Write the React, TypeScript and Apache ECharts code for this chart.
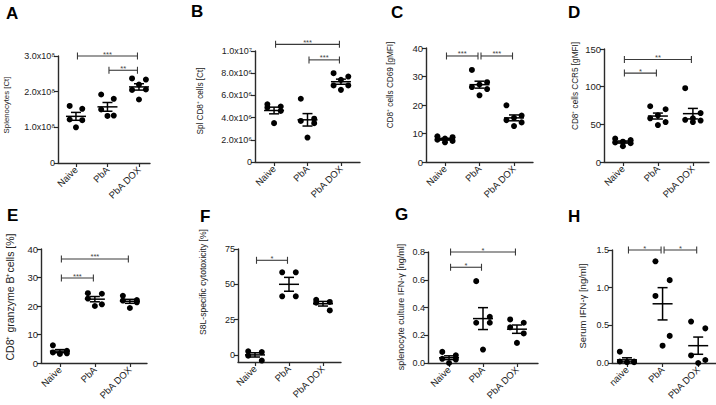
import { useEffect, useRef } from 'react';
import * as echarts from 'echarts';

const FONT = '"Liberation Sans", Arial, Helvetica, sans-serif';
const AXIS = '#2a2a2a';

const CATEGORIES = ['Naive', 'PbA', 'PbA DOX'];
const CATEGORIES_H = ['naive', 'PbA', 'PbA DOX'];

// A – Splenocytes [Ct]
const A_NAIVE = [1.6e8, 1.52e8, 1.22e8, 1.2e8, 1.0e8];
const A_PBA = [1.92e8, 1.8e8, 1.5e8, 1.33e8, 1.32e8];
const A_DOX = [2.37e8, 2.34e8, 2.2e8, 2.05e8, 2.06e8, 1.78e8];
const A_TICKS = [0, 1e8, 2e8, 3e8];
const A_SIG: [number, number, number, string][] = [[0, 2, 3.0e8, '***'], [1, 2, 2.6e8, '**']];

// B – Spl CD8+ cells [Ct]
const B_NAIVE = [5.2e6, 5.0e6, 4.9e6, 4.6e6, 3.5e6];
const B_PBA = [5.7e6, 3.9e6, 3.7e6, 3.5e6, 2.2e6];
const B_DOX = [8.0e6, 7.7e6, 7.4e6, 6.9e6, 6.9e6, 6.5e6];
const B_TICKS = [0, 2e6, 4e6, 6e6, 8e6, 1e7];
const B_SIG: [number, number, number, string][] = [[0, 2, 10.6e6, '***'], [1, 2, 9.2e6, '***']];

// C – CD8+ cells CD69 [gMFI]
const C_NAIVE = [9.0, 8.7, 8.2, 7.8, 7.4, 6.9];
const C_PBA = [32.3, 28.0, 27.2, 26.3, 25.6, 23.4];
const C_DOX = [19.9, 16.3, 15.5, 14.7, 13.9, 12.6];
const C_TICKS = [0, 10, 20, 30, 40];
const C_SIG: [number, number, number, string][] = [[0, 1, 37.2, '***'], [1, 2, 37.2, '***']];

// D – CD8+ cells CCR5 [gMFI]
const D_NAIVE = [31, 29, 27, 26, 25, 21];
const D_PBA = [74, 70, 62, 58, 53, 49];
const D_DOX = [98, 65, 58, 56, 55, 53];
const D_TICKS = [0, 50, 100, 150];
const D_SIG: [number, number, number, string][] = [[0, 2, 136, '**'], [0, 1, 118, '*']];

// E – CD8+ granzyme B+ cells [%]
const E_NAIVE = [6.2, 4.3, 3.7, 3.4, 3.2];
const E_PBA = [24.5, 24.3, 22.6, 20.6, 20.0];
const E_DOX = [23.6, 22.1, 21.9, 21.3, 19.3];
const E_TICKS = [0, 10, 20, 30, 40];
const E_SIG: [number, number, number, string][] = [[0, 2, 36.5, '***'], [0, 1, 29.8, '***']];

// F – S8L-specific cytotoxicity [%]
const F_NAIVE = [2.6, 2.0, -0.5, -4.0];
const F_PBA = [58.5, 58.5, 41.5, 41.5];
const F_DOX = [39, 37.5, 37, 31.5];
const F_TICKS = [0, 25, 50, 75];
const F_SIG: [number, number, number, string][] = [[0, 1, 67, '*']];

// G – splenocyte culture IFN-γ [ng/ml]
const G_NAIVE = [0.08, 0.055, 0.03, 0.025, 0.0];
const G_PBA = [0.59, 0.333, 0.29, 0.29, 0.097];
const G_DOX = [0.314, 0.29, 0.257, 0.213, 0.145];
const G_TICKS = [0, 0.2, 0.4, 0.6, 0.8];
const G_SIG: [number, number, number, string][] = [[0, 2, 0.8, '*'], [0, 1, 0.69, '*']];

// H – Serum IFN-γ [ng/ml]
const H_NAIVE = [0.15, 0.02, 0.02, 0.01, 0.01];
const H_PBA = [1.35, 1.1, 0.89, 0.36, 0.23];
const H_DOX = [0.55, 0.46, 0.1, 0.04, 0.0];
const H_TICKS = [0, 0.5, 1.0, 1.5];
const H_SIG: [number, number, number, string][] = [[0, 1, 1.5, '*'], [1, 2, 1.5, '*']];

// horizontal scatter spread of the dots inside a group (category units)
const JITTER: Record<number, number[]> = {
  4: [-0.2, 0.2, -0.2, 0.2],
  5: [-0.2, 0.2, -0.2, 0.2, 0],
  6: [-0.22, 0.22, 0, -0.22, 0.22, 0],
};

const sci = (exp: number, sup: string) => (v: number) =>
  v === 0 ? '0' : (v / Math.pow(10, exp)).toFixed(1) + 'x10' + sup;
const fixed = (d: number) => (v: number) => v.toFixed(d);

type Panel = {
  letter: string; lx: number; ly: number;
  left: number; top: number; width: number; height: number;
  xMin: number; xMax: number; yMin: number; yMax: number;
  ticks: number[]; fmt: (v: number) => string;
  name: string; nx: number; ny: number; nfs: number; tfs: number;
  cats: string[]; groups: number[][]; sig: [number, number, number, string][];
};

const PANELS: Panel[] = [
  { letter: 'A', lx: 6, ly: 5, left: 58, top: 56, width: 92, height: 107, xMin: -0.57, xMax: 2.35, yMin: 0, yMax: 3e8,
    ticks: A_TICKS, fmt: sci(8, '⁸'), name: 'Splenocytes [Ct]', nx: 6, ny: 105, nfs: 7.8, tfs: 9,
    cats: CATEGORIES, groups: [A_NAIVE, A_PBA, A_DOX], sig: A_SIG },
  { letter: 'B', lx: 191, ly: 3, left: 255, top: 51, width: 105, height: 111, xMin: -0.57, xMax: 2.57, yMin: 0, yMax: 1e7,
    ticks: B_TICKS, fmt: (v) => (v === 0 ? '0' : v >= 1e7 ? (v / 1e7).toFixed(1) + 'x10⁷' : (v / 1e6).toFixed(1) + 'x10⁶'),
    name: 'Spl CD8⁺ cells [Ct]', nx: 200.5, ny: 101, nfs: 8.2, tfs: 9,
    cats: CATEGORIES, groups: [B_NAIVE, B_PBA, B_DOX], sig: B_SIG },
  { letter: 'C', lx: 391, ly: 4, left: 426, top: 48, width: 107, height: 114, xMin: -0.55, xMax: 2.55, yMin: 0, yMax: 40,
    ticks: C_TICKS, fmt: fixed(0), name: 'CD8⁺ cells CD69 [gMFI]', nx: 390, ny: 85, nfs: 8.2, tfs: 9.5,
    cats: CATEGORIES, groups: [C_NAIVE, C_PBA, C_DOX], sig: C_SIG },
  { letter: 'D', lx: 568, ly: 4, left: 604, top: 49, width: 105, height: 113, xMin: -0.54, xMax: 2.46, yMin: 0, yMax: 150,
    ticks: D_TICKS, fmt: fixed(0), name: 'CD8⁺ cells CCR5 [gMFI]', nx: 575.5, ny: 86, nfs: 8.2, tfs: 9.5,
    cats: CATEGORIES, groups: [D_NAIVE, D_PBA, D_DOX], sig: D_SIG },
  { letter: 'E', lx: 7, ly: 207, left: 41, top: 249, width: 106, height: 114, xMin: -0.54, xMax: 2.49, yMin: 0, yMax: 40,
    ticks: E_TICKS, fmt: fixed(0), name: 'CD8⁺ granzyme B⁺cells [%]', nx: 9.5, ny: 297, nfs: 10.5, tfs: 9.5,
    cats: CATEGORIES, groups: [E_NAIVE, E_PBA, E_DOX], sig: E_SIG },
  { letter: 'F', lx: 200, ly: 208, left: 238, top: 249, width: 103, height: 113, xMin: -0.5, xMax: 2.53, yMin: -5, yMax: 75,
    ticks: F_TICKS, fmt: fixed(0), name: 'S8L-specific cytotoxicity [%]', nx: 203, ny: 282, nfs: 8.6, tfs: 9,
    cats: CATEGORIES, groups: [F_NAIVE, F_PBA, F_DOX], sig: F_SIG },
  { letter: 'G', lx: 395, ly: 206, left: 428, top: 252, width: 110, height: 111, xMin: -0.62, xMax: 2.62, yMin: 0, yMax: 0.8,
    ticks: G_TICKS, fmt: fixed(1), name: 'splenocyte culture IFN-γ [ng/ml]', nx: 401, ny: 307, nfs: 9, tfs: 9,
    cats: CATEGORIES, groups: [G_NAIVE, G_PBA, G_DOX], sig: G_SIG },
  { letter: 'H', lx: 568, ly: 208, left: 612, top: 250, width: 104, height: 113, xMin: -0.42, xMax: 2.5, yMin: 0, yMax: 1.5,
    ticks: H_TICKS, fmt: fixed(1), name: 'Serum IFN-γ [ng/ml]', nx: 582.5, ny: 306, nfs: 9.5, tfs: 9,
    cats: CATEGORIES_H, groups: [H_NAIVE, H_PBA, H_DOX], sig: H_SIG },
];

function meanSem(vals: number[]): [number, number] {
  const n = vals.length;
  const m = vals.reduce((a, b) => a + b, 0) / n;
  const sd = Math.sqrt(vals.reduce((a, b) => a + (b - m) * (b - m), 0) / (n - 1));
  return [m, sd / Math.sqrt(n)];
}

function buildOption(): any {
  const grid: any[] = [];
  const xAxis: any[] = [];
  const yAxis: any[] = [];
  const series: any[] = [];
  const graphic: any[] = [];

  PANELS.forEach((p, i) => {
    grid.push({ left: p.left, top: p.top, width: p.width, height: p.height, containLabel: false });
    xAxis.push({
      type: 'value', gridIndex: i, min: p.xMin, max: p.xMax,
      axisLine: { show: true, onZero: false, lineStyle: { color: AXIS, width: 1.4 } },
      axisTick: { show: true, customValues: [0, 1, 2], length: 4, lineStyle: { color: AXIS, width: 1.2 } },
      axisLabel: {
        customValues: [0, 1, 2], formatter: (v: number) => p.cats[Math.round(v)] ?? '',
        rotate: 45, fontSize: 9.5, color: '#222', fontFamily: FONT, margin: 5,
      },
      splitLine: { show: false },
    });
    yAxis.push({
      type: 'value', gridIndex: i, min: p.yMin, max: p.yMax,
      axisLine: { show: true, onZero: false, lineStyle: { color: AXIS, width: 1.4 } },
      axisTick: { show: true, customValues: p.ticks, length: 4, lineStyle: { color: AXIS, width: 1.2 } },
      axisLabel: { customValues: p.ticks, formatter: p.fmt, fontSize: p.tfs, color: '#222', fontFamily: FONT, margin: 3 },
      splitLine: { show: false },
    });

    const pts: number[][] = [];
    const stats: number[][] = [];
    p.groups.forEach((vals, g) => {
      const jit = JITTER[vals.length] || vals.map(() => 0);
      vals.forEach((v, k) => pts.push([g + jit[k], v]));
      const [m, s] = meanSem(vals);
      stats.push([g, m, s]);
    });

    series.push({
      type: 'scatter', xAxisIndex: i, yAxisIndex: i, data: pts, symbolSize: 6,
      itemStyle: { color: '#000', opacity: 1 }, silent: true, z: 3,
    });
    series.push({
      type: 'custom', xAxisIndex: i, yAxisIndex: i, data: stats, clip: false, silent: true, z: 4,
      renderItem: (_params: any, api: any) => {
        const x = api.value(0), m = api.value(1), s = api.value(2);
        const c = api.coord([x, m]);
        const t = api.coord([x, m + s]);
        const b = api.coord([x, m - s]);
        const st = { stroke: '#000', lineWidth: 1.5 };
        const hw = 10, cw = 5;
        return {
          type: 'group', children: [
            { type: 'line', shape: { x1: c[0] - hw, y1: c[1], x2: c[0] + hw, y2: c[1] }, style: st },
            { type: 'line', shape: { x1: c[0], y1: t[1], x2: c[0], y2: b[1] }, style: st },
            { type: 'line', shape: { x1: c[0] - cw, y1: t[1], x2: c[0] + cw, y2: t[1] }, style: st },
            { type: 'line', shape: { x1: c[0] - cw, y1: b[1], x2: c[0] + cw, y2: b[1] }, style: st },
          ],
        };
      },
    });
    series.push({
      type: 'custom', xAxisIndex: i, yAxisIndex: i, clip: false, silent: true, z: 5,
      data: p.sig.map((s) => [s[0], s[2], s[1]]),
      renderItem: (params: any, api: any) => {
        const a = api.coord([api.value(0), api.value(1)]);
        const b = api.coord([api.value(2), api.value(1)]);
        const x1 = a[0] + 1.5, x2 = b[0] - 1.5, y = a[1];
        const st = { stroke: '#3a3a3a', lineWidth: 1.1 };
        const label = p.sig[params.dataIndex][3];
        return {
          type: 'group', children: [
            { type: 'line', shape: { x1, y1: y, x2, y2: y }, style: st },
            { type: 'line', shape: { x1, y1: y - 3.5, x2: x1, y2: y + 3.5 }, style: st },
            { type: 'line', shape: { x1: x2, y1: y - 3.5, x2, y2: y + 3.5 }, style: st },
            {
              type: 'text', x: (x1 + x2) / 2, y: y - 2,
              style: { text: label, fill: '#444', font: `7.5px ${FONT}`, align: 'center', verticalAlign: 'middle' },
            },
          ],
        };
      },
    });

    graphic.push({
      type: 'text', left: p.lx, top: p.ly, silent: true,
      style: { text: p.letter, fill: '#000', font: `bold 17px ${FONT}` },
    });
    graphic.push({
      type: 'text', x: p.nx, y: p.ny, rotation: Math.PI / 2, silent: true,
      style: { text: p.name, fill: '#222', font: `${p.nfs}px ${FONT}`, align: 'center', verticalAlign: 'middle' },
    });
  });

  return { animation: false, backgroundColor: '#fff', grid, xAxis, yAxis, series, graphic };
}

export default function App() {
  const ref = useRef<HTMLDivElement>(null);
  useEffect(() => {
    if (!ref.current) return;
    const chart = echarts.init(ref.current, undefined, { renderer: 'svg' });
    chart.setOption(buildOption());
    return () => chart.dispose();
  }, []);
  return (
    <div
      ref={ref}
      style={{ position: 'absolute', left: 0, top: 0, width: 716, height: 405, background: '#fff' }}
    />
  );
}
